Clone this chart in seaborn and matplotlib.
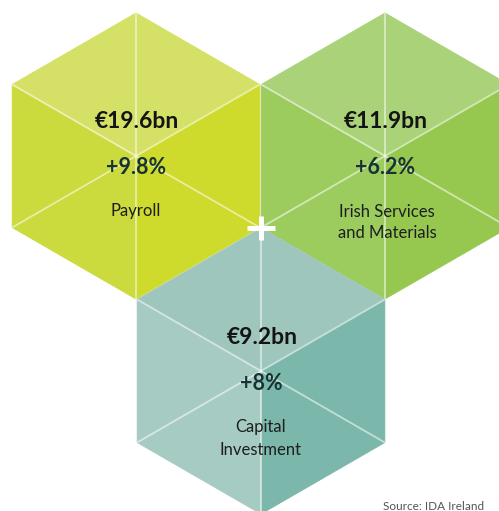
import numpy as np
import matplotlib
matplotlib.use("Agg")
import matplotlib.pyplot as plt
from matplotlib.patches import Polygon
import seaborn as sns

# data
labels = ["Payroll", "Irish Services\nand Materials", "Capital\nInvestment"]
values = ["€19.6bn", "€11.9bn", "€9.2bn"]
growth = ["+9.8%", "+6.2%", "+8%"]

# face colours per hexagon: top, right, left (cube shading)
face_colors = [
    ["#d5e166", "#cedb2d", "#cbda3c"],
    ["#a9d279", "#96c850", "#9ccc5e"],
    ["#9fc6bd", "#7bb7aa", "#a6cbc3"],
]

sns.set_theme(style="white")
plt.rcParams["font.family"] = ["Lato", "DejaVu Sans"]

fig = plt.figure(figsize=(4.99, 5.11), dpi=100)
ax = fig.add_axes([0, 0, 1, 1])
ax.set_xlim(0, 499)
ax.set_ylim(511, 0)
ax.axis("off")

# hexagon layout (pixel coordinates)
centers = [(136, 156), (385, 156), (261, 371)]
r = 143
angles = np.radians([90, 30, -30, -90, -150, 150])

# triangle i goes from vertex i to i+1 -> which face
tri_face = [0, 1, 1, 2, 2, 0]

for k, (cx, cy) in enumerate(centers):
    z = 1 + 2 * k
    verts = [(cx + r * np.cos(a), cy - r * np.sin(a)) for a in angles]
    for i in range(6):
        tri = [(cx, cy), verts[i], verts[(i + 1) % 6]]
        col = face_colors[k][tri_face[i]]
        ax.add_patch(Polygon(tri, closed=True, facecolor=col, edgecolor=col,
                             lw=0.6, zorder=z))
    for vx, vy in verts:
        ax.plot([cx, vx], [cy, vy], color="white", alpha=0.55, lw=1.3,
                zorder=z + 0.5, solid_capstyle="butt")

    ax.text(cx + 1, cy - 34, values[k], ha="center", va="center", fontsize=16.5,
            fontweight="bold", color="#141414", zorder=10)
    ax.text(cx, cy + 12, growth[k], ha="center", va="center", fontsize=15.5,
            fontweight="bold", color="#183333", zorder=10)

ax.text(centers[0][0], 211, labels[0], ha="center", va="center",
        fontsize=12, color="#1e1e1e", zorder=10)
ax.text(centers[1][0] + 2, 222.5, labels[1], ha="center", va="center",
        fontsize=12, color="#1e1e1e", linespacing=1.4, zorder=10)
ax.text(centers[2][0], 438.5, labels[2], ha="center", va="center",
        fontsize=12, color="#1e1e1e", linespacing=1.5, zorder=10)

# white plus where the three hexagons meet
ax.plot([247, 275], [228, 228], color="white", lw=3.6, zorder=11,
        solid_capstyle="butt")
ax.plot([261, 261], [216, 240], color="white", lw=3.6, zorder=11,
        solid_capstyle="butt")

ax.text(383, 507, "Source: IDA Ireland", ha="left", va="center",
        fontsize=8.5, color="#555555", zorder=10)

fig.savefig("out.png", dpi=100)
